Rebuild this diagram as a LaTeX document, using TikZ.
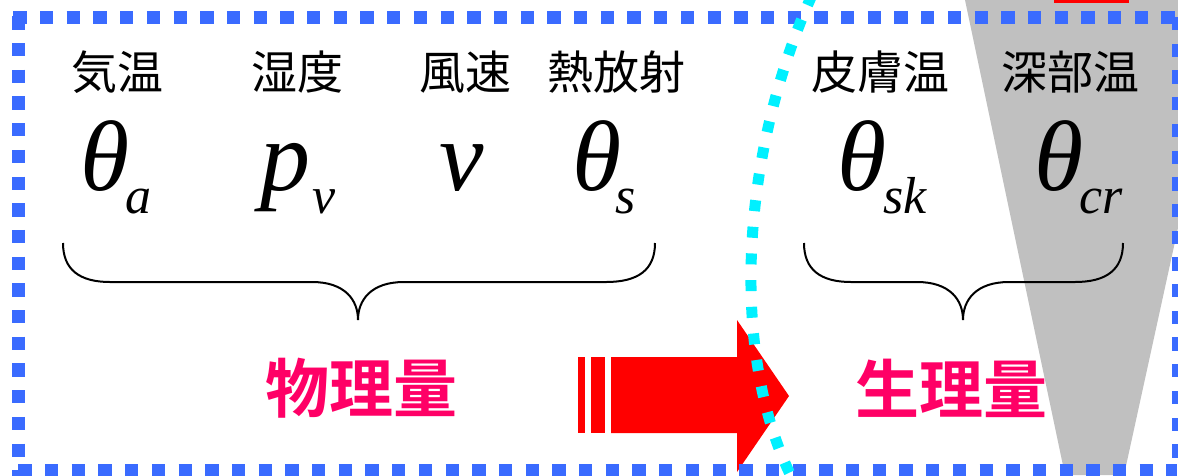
\documentclass[tikz,border=0pt]{standalone}
\usepackage{fontspec}
\setmainfont{Liberation Serif}
\newfontfamily\jp{Noto Sans CJK JP}
\newfontfamily\jpb{Noto Sans CJK JP Bold}
\definecolor{bdot}{RGB}{58,107,255}
\definecolor{cdot}{RGB}{0,240,255}
\definecolor{pinkq}{RGB}{255,0,102}
\definecolor{grayq}{RGB}{192,192,192}
\definecolor{redq}{RGB}{255,0,0}
\tikzset{
  lbl/.style={inner sep=0pt, anchor=center, font=\jp\fontsize{46}{46}\selectfont},
  sym/.style={inner sep=0pt, anchor=base, font=\itshape\fontsize{100}{100}\selectfont},
  sub/.style={inner sep=0pt, anchor=base, font=\itshape\fontsize{52}{52}\selectfont},
  qty/.style={inner sep=0pt, anchor=center, text=pinkq, font=\jpb\fontsize{64}{64}\selectfont},
  bracepath/.style={line width=2pt, black},
  frame/.style={bdot, line width=13pt, dash pattern=on 13.3pt off 13.4pt},
}
\begin{document}
\begin{tikzpicture}[x=1pt,y=-1pt]
\useasboundingbox (0,0) rectangle (1178,475);
\clip (0,0) rectangle (1178,475);
% gray wedge
\fill[grayq] (965,0) -- (1178,0) -- (1178,228) -- (1124,475) -- (1065,475) -- cycle;
% red bar at top
\fill[redq] (1054,0) rectangle (1129,2.5);
% red arrow
\fill[redq] (611,357) -- (737,357) -- (737,320) -- (789,396) -- (737,472) -- (737,433) -- (611,433) -- cycle;
\fill[redq] (578,357) rectangle (585,433);
\fill[redq] (591,357) rectangle (605,433);
% blue dotted frame
\draw[frame] (13.3,17) -- (1177,17);
\draw[frame] (18.3,470) -- (1177,470);
\draw[frame] (18,16.3) -- (18,476);
\draw[frame, line width=8pt] (1176,17) -- (1176,470);
% cyan dotted curve
\draw[cdot, line width=11pt, dash pattern=on 11pt off 15.7pt] (812,-5) .. controls (742,150) and (728,350) .. (792,478);
% braces
\coordinate (b1l) at (63,243);
\coordinate (b1t) at (358,320);
\coordinate (b1r) at (655,243);
\draw[bracepath] (b1l) .. controls (63,270) and (80,282) .. (110,282) -- (312,282) .. controls (345,282) and (358,300) .. (b1t)
  .. controls (358,300) and (371,282) .. (404,282) -- (606,282) .. controls (638,282) and (655,270) .. (b1r);
\coordinate (b2l) at (804,243);
\coordinate (b2t) at (963,320);
\coordinate (b2r) at (1123,243);
\draw[bracepath] (b2l) .. controls (804,270) and (821,282) .. (851,282) -- (917,282) .. controls (950,282) and (963,300) .. (b2t)
  .. controls (963,300) and (976,282) .. (1009,282) -- (1075,282) .. controls (1106,282) and (1123,270) .. (b2r);
% labels
\node[lbl] (l1) at (117,72) {気温};
\node[lbl] (l2) at (297,72) {湿度};
\node[lbl] (l3) at (465,72) {風速};
\node[lbl] (l4) at (616,72) {熱放射};
\node[lbl] (l5) at (880,72) {皮膚温};
\node[lbl] (l6) at (1070,72) {深部温};
% symbols
\node[sym] (s1) at (105,190) {θ};
\node[sub] (s1s) at (138,213) {a};
\node[sym] (s2) at (285,190) {p};
\node[sub] (s2s) at (324,213) {v};
\node[sym] (s3) at (462,190) {v};
\node[sym] (s4) at (597,190) {θ};
\node[sub] (s4s) at (626,213) {s};
\node[sym] (s5) at (862,190) {θ};
\node[sub] (s5s) at (905,213) {sk};
\node[sym] (s6) at (1059,190) {θ};
\node[sub] (s6s) at (1101,213) {cr};
% quantities
\node[qty] (q1) at (361,388) {物理量};
\node[qty] (q2) at (951,388) {生理量};
\end{tikzpicture}
\end{document}
